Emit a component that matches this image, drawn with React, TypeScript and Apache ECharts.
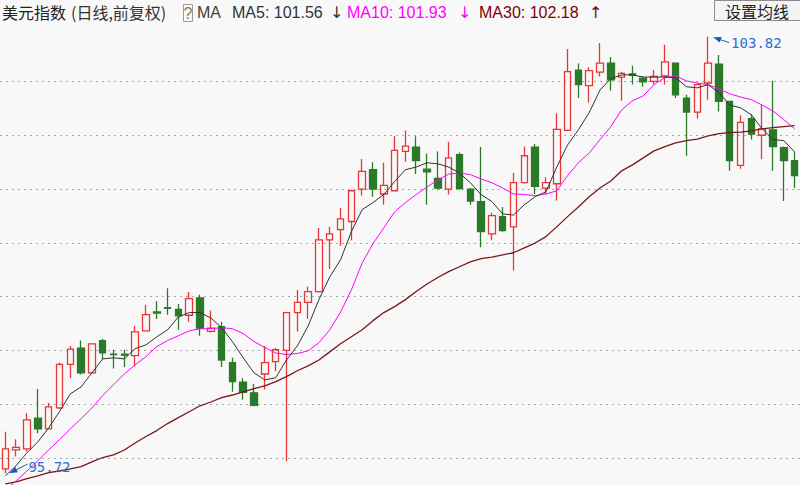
import React, { useEffect, useRef } from "react";
import * as echarts from "echarts";

// ---- data ----
const openP = [
  95.80, 96.15, 96.17, 96.74, 96.54, 96.93, 97.74, 98.04, 97.58, 98.18,
  97.93, 97.93, 97.90, 98.36, 98.71, 98.79, 98.76, 98.65, 98.97, 98.35,
  98.44, 97.77, 97.41, 97.21, 97.56, 97.79, 98.00, 98.70, 98.89, 99.09,
  100.05, 100.24, 100.39, 100.99, 101.35, 100.90, 100.96, 101.69, 101.77, 101.36,
  101.19, 100.99, 101.63, 100.99, 100.76, 100.16, 100.48, 100.29, 101.11, 101.77,
  101.01, 101.09, 102.08, 103.20, 102.91, 103.16, 103.33, 103.07, 103.13, 103.05,
  102.99, 103.09, 103.33, 102.68, 102.42, 102.96, 103.31, 102.62, 101.43, 102.30,
  101.99, 102.09, 101.76, 101.52,
];
const closeP = [
  96.17, 96.20, 96.71, 96.54, 96.95, 97.74, 98.02, 97.58, 98.12, 97.95,
  97.92, 97.91, 98.34, 98.66, 98.69, 98.78, 98.64, 98.96, 98.41, 98.41,
  97.82, 97.42, 97.22, 96.98, 97.77, 98.01, 98.70, 98.89, 99.09, 100.05,
  100.16, 100.44, 100.96, 101.32, 100.99, 101.06, 101.71, 101.79, 101.52, 101.31,
  101.01, 101.57, 101.00, 100.77, 100.20, 100.50, 100.22, 101.11, 101.61, 101.04,
  101.11, 102.10, 103.17, 102.93, 103.19, 103.33, 103.02, 103.14, 103.10, 102.98,
  103.08, 103.35, 102.74, 102.42, 102.93, 103.33, 102.62, 101.52, 102.23, 102.01,
  102.11, 101.78, 101.52, 101.24,
];
const lowP = [
  95.72, 96.03, 96.12, 96.46, 96.53, 96.91, 97.48, 97.55, 97.56, 97.84,
  97.66, 97.69, 97.70, 98.35, 98.58, 98.66, 98.38, 98.53, 98.27, 98.33,
  97.69, 97.23, 97.08, 96.96, 97.27, 97.61, 95.94, 98.35, 98.58, 99.07,
  99.51, 99.94, 100.04, 100.87, 100.85, 100.70, 100.95, 101.50, 101.27, 100.70,
  100.98, 100.89, 100.98, 100.70, 99.91, 100.04, 100.20, 99.48, 101.09, 100.90,
  100.89, 100.78, 102.07, 102.68, 102.60, 103.08, 102.82, 102.63, 102.93, 102.89,
  102.93, 102.93, 102.68, 101.61, 102.30, 102.65, 102.43, 101.33, 101.37, 101.91,
  101.55, 101.33, 100.77, 101.01,
];
const highP = [
  96.49, 96.35, 96.83, 97.28, 97.02, 97.77, 98.08, 98.18, 98.13, 98.21,
  98.01, 98.01, 98.45, 98.84, 98.91, 99.15, 98.86, 99.08, 99.03, 98.74,
  98.53, 97.86, 97.48, 97.38, 98.08, 98.04, 98.71, 99.12, 99.18, 100.27,
  100.29, 100.64, 100.98, 101.55, 101.49, 101.48, 101.97, 102.08, 101.97, 101.65,
  101.69, 101.87, 101.67, 101.01, 101.77, 100.55, 100.66, 101.29, 101.78, 101.83,
  101.21, 102.40, 103.59, 103.32, 103.25, 103.70, 103.44, 103.17, 103.28, 103.08,
  103.20, 103.67, 103.33, 102.74, 102.96, 103.82, 103.48, 102.63, 102.36, 102.38,
  102.55, 103.00, 101.78, 101.68,
];
const ma5 = [
  95.67, 95.86, 96.10, 96.30, 96.56, 96.86, 97.19, 97.32, 97.58, 97.84,
  97.86, 97.84, 98.03, 98.10, 98.25, 98.38, 98.62, 98.70, 98.70, 98.60,
  98.42, 98.16, 97.86, 97.58, 97.45, 97.49, 97.82, 98.08, 98.45, 98.94,
  99.36, 99.68, 100.20, 100.61, 100.74, 100.89, 101.13, 101.35, 101.40, 101.48,
  101.46, 101.40, 101.29, 101.11, 100.89, 100.76, 100.53, 100.51, 100.70, 100.85,
  100.94, 101.40, 101.81, 102.09, 102.41, 102.83, 103.04, 103.11, 103.11, 103.07,
  103.07, 103.07, 103.06, 102.89, 102.87, 102.93, 102.78, 102.55, 102.50, 102.37,
  102.11, 101.91, 101.89, 101.68,
];
const ma10 = [
  95.41, 95.58, 95.76, 95.95, 96.15, 96.34, 96.54, 96.73, 96.93, 97.16,
  97.36, 97.56, 97.73, 97.88, 98.07, 98.18, 98.27, 98.36, 98.40, 98.40,
  98.42, 98.40, 98.31, 98.16, 98.05, 97.95, 97.92, 97.94, 97.99, 98.14,
  98.38, 98.71, 99.12, 99.62, 99.98, 100.27, 100.57, 100.74, 100.89, 101.03,
  101.16, 101.27, 101.29, 101.26, 101.18, 101.11, 101.01, 100.90, 100.89, 100.87,
  100.90, 100.96, 101.24, 101.48, 101.66, 101.91, 102.15, 102.46, 102.63, 102.72,
  102.93, 103.06, 103.09, 103.00, 102.96, 102.93, 102.85, 102.76, 102.70, 102.65,
  102.55, 102.44, 102.28, 102.11,
];
const ma30 = [
  95.52, 95.56, 95.62, 95.67, 95.73, 95.76, 95.80, 95.84, 95.93, 96.01,
  96.06, 96.15, 96.28, 96.40, 96.51, 96.64, 96.75, 96.86, 96.97, 97.04,
  97.12, 97.17, 97.23, 97.29, 97.34, 97.42, 97.51, 97.62, 97.71, 97.82,
  97.97, 98.12, 98.25, 98.38, 98.55, 98.70, 98.81, 98.94, 99.09, 99.23,
  99.35, 99.46, 99.55, 99.64, 99.70, 99.73, 99.77, 99.81, 99.90, 99.99,
  100.11, 100.29, 100.48, 100.66, 100.85, 101.01, 101.14, 101.33, 101.44, 101.57,
  101.70, 101.78, 101.85, 101.89, 101.92, 101.98, 102.02, 102.04, 102.05, 102.07,
  102.11, 102.13, 102.15, 102.17,
];
const gridValues = [96, 97, 98, 99, 100, 101, 102, 103];
const titleText = "美元指数";
const subtitleText = "(日线,前复权)";
const maHeader = [
  { text: "MA5: 101.56", arrow: "↓" },
  { text: "MA10: 101.93", arrow: "↓" },
  { text: "MA30: 102.18", arrow: "↑" },
];
const buttonText = "设置均线";

const RED = "#e83535";
const GREEN = "#2a7a2a";
const MA5C = "#333333";
const MA10C = "#ff00ff";
const MA30C = "#781818";
const FONT = '"Liberation Sans", "Noto Sans CJK SC", sans-serif';
const CJK = '"Noto Sans CJK SC", "Liberation Sans", sans-serif';
const MONO = '"DejaVu Sans Mono", monospace';

export default function App() {
  const ref = useRef<HTMLDivElement>(null);
  useEffect(() => {
    if (!ref.current) return;
    const chart = echarts.init(ref.current, null, { renderer: "svg" });
    const days = openP.map((_, i) => String(i + 1));
    const kData = openP.map((o, i) => [o, closeP[i], lowP[i], highP[i]]);
    const lineS = (name: string, data: number[], color: string, width: number) => ({
      name,
      type: "line",
      data,
      symbol: "none",
      smooth: false,
      z: 3,
      lineStyle: { color, width },
      itemStyle: { color },
      silent: true,
    });
    chart.setOption({
      animation: false,
      backgroundColor: "#f8f8f8",
      grid: { left: -2, right: -1.5, top: 0, bottom: 0 },
      xAxis: { type: "category", data: days, show: false, boundaryGap: true },
      yAxis: { type: "value", min: 95.5, max: 104.5, show: false, splitLine: { show: false } },
      series: [
        {
          type: "candlestick",
          data: kData,
          barWidth: 7,
          z: 2,
          silent: true,
          itemStyle: {
            color: "transparent",
            color0: GREEN,
            borderColor: RED,
            borderColor0: GREEN,
            borderWidth: 1.3,
          },
        },
        lineS("MA30", ma30, MA30C, 1.3),
        lineS("MA10", ma10, MA10C, 1),
        lineS("MA5", ma5, MA5C, 1),
      ],
    });

    const toPx = (i: number, v: number) =>
      chart.convertToPixel({ xAxisIndex: 0, yAxisIndex: 0 }, [i, v]) as number[];

    const graphics: any[] = [];
    // dotted grid lines
    gridValues.forEach((v) => {
      const y = Math.round(toPx(0, v)[1]) + 0.5;
      graphics.push({
        type: "line",
        z: -1,
        silent: true,
        shape: { x1: 0, y1: y, x2: 800, y2: y },
        style: { stroke: "#a8a8a8", lineWidth: 1, lineDash: [2, 4] },
      });
    });

    // annotations for max high / min low
    const arrow = (tx: number, ty: number, ex: number, ey: number) => {
      const dx = ex - tx, dy = ey - ty;
      const len = Math.hypot(dx, dy);
      const ux = dx / len, uy = dy / len;
      const bx = tx + ux * 8, by = ty + uy * 8;
      const px = -uy * 3, py = ux * 3;
      graphics.push({
        type: "polygon",
        z: 20,
        silent: true,
        shape: { points: [[tx, ty], [bx + px, by + py], [bx - px, by - py]] },
        style: { fill: "#1d58b8" },
      });
      graphics.push({
        type: "line",
        z: 20,
        silent: true,
        shape: { x1: bx - ux, y1: by - uy, x2: ex, y2: ey },
        style: { stroke: "#1d58b8", lineWidth: 1 },
      });
    };
    const maxV = Math.max(...highP);
    const maxI = highP.indexOf(maxV);
    const minV = Math.min(...lowP);
    const minI = lowP.indexOf(minV);
    const pMax = toPx(maxI, maxV);
    const pMin = toPx(minI, minV);
    arrow(pMax[0] + 5, pMax[1] + 0.5, pMax[0] + 21, pMax[1] + 6);
    graphics.push({
      type: "text",
      z: 20,
      silent: true,
      x: pMax[0] + 23,
      y: pMax[1] + 6,
      style: { text: maxV.toFixed(2), fill: "#2a6fd6", fontSize: 14, fontFamily: MONO, verticalAlign: "middle", align: "left" },
    });
    arrow(pMin[0] + 4, pMin[1], pMin[0] + 22, pMin[1] - 9);
    graphics.push({
      type: "text",
      z: 20,
      silent: true,
      x: pMin[0] + 23,
      y: pMin[1] - 6,
      style: { text: minV.toFixed(2), fill: "#2a6fd6", fontSize: 14, fontFamily: MONO, verticalAlign: "middle", align: "left" },
    });

    // header
    const hText = (text: string, x: number, fill: string, family = FONT) => ({
      type: "text",
      z: 30,
      silent: true,
      x,
      y: 12,
      style: { text, fill, fontSize: 16, fontFamily: family, verticalAlign: "middle", align: "left" },
    });
    graphics.push(hText(titleText, 2, "#222", CJK));
    graphics.push(hText(subtitleText, 71, "#333", CJK));
    graphics.push({
      type: "rect",
      z: 30,
      silent: true,
      shape: { x: 183.5, y: 4.5, width: 9, height: 17 },
      style: { fill: "none", stroke: "#9a9a9a", lineWidth: 1 },
    });
    graphics.push({
      type: "text",
      z: 31,
      silent: true,
      x: 188,
      y: 13,
      style: { text: "?", fill: "#8a7a55", fontSize: 16, fontFamily: FONT, verticalAlign: "middle", align: "center" },
    });
    graphics.push(hText("MA", 197, "#4a4030"));
    graphics.push(hText(maHeader[0].text, 232, "#333"));
    graphics.push(hText(maHeader[0].arrow, 330, "#333", '"DejaVu Sans", sans-serif'));
    graphics.push(hText(maHeader[1].text, 347, MA10C));
    graphics.push(hText(maHeader[1].arrow, 458, MA10C, '"DejaVu Sans", sans-serif'));
    graphics.push(hText(maHeader[2].text, 479, "#800000"));
    graphics.push(hText(maHeader[2].arrow, 589, "#800000", '"DejaVu Sans", sans-serif'));
    graphics.push({
      type: "rect",
      z: 30,
      silent: true,
      shape: { x: 714.5, y: 0.5, width: 90, height: 20 },
      style: { fill: "#f4f4f4", stroke: "#8c8c8c", lineWidth: 1 },
    });
    graphics.push({
      type: "text",
      z: 31,
      silent: true,
      x: 725,
      y: 11,
      style: { text: buttonText, fill: "#222", fontSize: 16, fontFamily: CJK, verticalAlign: "middle", align: "left" },
    });

    chart.setOption({ graphic: { elements: graphics } });
    return () => chart.dispose();
  }, []);
  return (
    <div
      ref={ref}
      style={{ position: "fixed", left: 0, top: 0, width: 800, height: 485 }}
    />
  );
}
